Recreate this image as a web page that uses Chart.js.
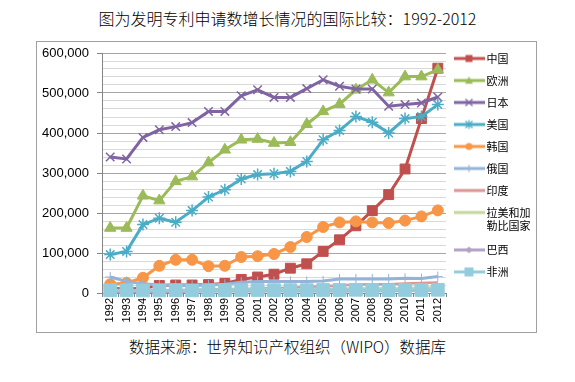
<!DOCTYPE html>
<html><head><meta charset="utf-8">
<script src="https://cdn.jsdelivr.net/npm/chart.js@4.4.0/dist/chart.umd.min.js"></script>
<style>
html,body{margin:0;padding:0;background:#fff;width:575px;height:382px;overflow:hidden;}
#title{position:absolute;left:0;top:8px;width:575px;text-align:center;font-family:"Noto Sans CJK SC";font-weight:300;font-size:16px;line-height:20px;color:#000;}
#frame{position:absolute;left:36px;top:41px;width:499px;height:290px;border:1px solid #a0a0a0;}
#src{position:absolute;left:0;top:336px;width:575px;text-align:center;font-family:"Noto Sans CJK SC";font-weight:300;font-size:15.5px;line-height:20px;color:#000;}
canvas{display:block;}
</style></head><body>
<div id="title">图为发明专利申请数增长情况的国际比较：1992-2012</div>
<div id="frame"><canvas id="c" width="499" height="290"></canvas></div>
<div id="src">数据来源：世界知识产权组织（WIPO）数据库</div>
<script>
// ---- data ----
const years = ['1992','1993','1994','1995','1996','1997','1998','1999','2000','2001','2002','2003','2004','2005','2006','2007','2008','2009','2010','2011','2012'];
const seriesNames = ['中国','欧洲','日本','美国','韩国','俄国','印度','拉美和加勒比国家','巴西','非洲'];
const china  = [12000,10000,12000,19000,20000,20000,21000,24000,34000,40000,47000,62000,73000,104000,133000,168000,206000,246000,310000,436000,562000];
const europe = [162500,162500,243000,231000,279000,291000,326000,358000,383000,385000,375000,377000,422000,454000,472000,508000,533000,501000,541000,541000,558000];
const japan  = [340000,335000,389000,408000,416000,426000,454000,454000,493000,508000,489000,489000,511000,533000,517000,510000,510000,467000,471000,475000,490000];
const usa    = [96000,104000,171000,187000,177000,206000,240000,258000,285000,296000,298000,304000,329000,383000,406000,441000,427000,400000,436000,441000,471000];
const korea  = [22000,25000,38000,68000,83000,83000,67000,68000,90000,92000,97500,115000,140000,165000,176500,179000,176500,175000,181000,191500,206500];
const russia = [40000,29000,23000,20000,20000,19000,20000,22000,27000,29000,29000,29000,29000,30000,35000,35000,35000,35000,37000,36000,41000];
const india  = [3000,3500,4000,5000,6000,8000,9000,10000,10000,11000,12000,13000,15000,17000,19000,21000,22000,22000,24000,25000,26000];
const latam  = [6000,6000,7000,7000,7000,8000,8000,9000,9000,9000,9000,9000,10000,10000,11000,11000,12000,11000,12000,13000,14000];
const brazil = [3000,3000,3500,4000,4000,4500,5000,5000,5000,5000,5000,5000,5000,5000,5000,5000,5500,5500,6000,6500,7000];
const africa = [7000,7000,6500,6500,7000,6500,7000,7000,7500,7500,7000,7000,7000,7500,7500,8000,7500,7000,7500,7500,8000];
const yMax = 600000;
const yMajorStep = 100000;
const yMinorStep = 20000;

// ---- styles ----
const dataArrays = [china, europe, japan, usa, korea, russia, india, latam, brazil, africa];
const styles = [
  {color:'#C0504D', point:'rect',     r:7,   bw:1,   width:3,   lr:3.5},
  {color:'#9BBB59', point:'triangle', r:6.5, bw:1,   width:3,   lr:4},
  {color:'#8064A2', point:'crossRot', r:6,   bw:1.5, width:3,   lr:3.5},
  {color:'#4BACC6', point:'star',     r:6,   bw:1.5, width:3,   lr:3.5},
  {color:'#F79646', point:'circle',   r:5.5, bw:1,   width:3,   lr:3.5},
  {color:'#95B3D7', point:'cross',    r:5,   bw:1,   width:3,   lr:3.5},
  {color:'#D99694', point:null,       r:0,   bw:0,   width:2.5, lr:0},
  {color:'#C3D69B', point:null,       r:0,   bw:0,   width:2.5, lr:0},
  {color:'#B3A2C7', point:'rectRot',  r:4,   bw:1,   width:3,   lr:3.5},
  {color:'#93CDDD', point:'rect',     r:9,   bw:1,   width:3,   lr:4.5}
];

function drawMarker(g, kind, x, y, r, color){
  g.fillStyle = color; g.strokeStyle = color; g.lineWidth = 1.2;
  g.beginPath();
  if (kind === 'rect') { g.fillRect(x-r, y-r, 2*r, 2*r); }
  else if (kind === 'triangle') { g.moveTo(x, y-r); g.lineTo(x+r, y+r*0.8); g.lineTo(x-r, y+r*0.8); g.closePath(); g.fill(); }
  else if (kind === 'crossRot') { g.moveTo(x-r,y-r); g.lineTo(x+r,y+r); g.moveTo(x+r,y-r); g.lineTo(x-r,y+r); g.stroke(); }
  else if (kind === 'star') { g.moveTo(x-r,y-r); g.lineTo(x+r,y+r); g.moveTo(x+r,y-r); g.lineTo(x-r,y+r); g.moveTo(x,y-r*1.3); g.lineTo(x,y+r*1.3); g.stroke(); }
  else if (kind === 'circle') { g.arc(x, y, r, 0, Math.PI*2); g.fill(); }
  else if (kind === 'cross') { g.moveTo(x,y-r); g.lineTo(x,y+r); g.moveTo(x-r,y); g.lineTo(x+r,y); g.stroke(); }
  else if (kind === 'rectRot') { g.moveTo(x,y-r); g.lineTo(x+r,y); g.lineTo(x,y+r); g.lineTo(x-r,y); g.closePath(); g.fill(); }
}
function makeSymbol(st){
  const c = document.createElement('canvas'); c.width = 31; c.height = 14;
  const g = c.getContext('2d');
  g.strokeStyle = st.color; g.lineWidth = 3;
  g.beginPath(); g.moveTo(0,7); g.lineTo(31,7); g.stroke();
  if (st.point) drawMarker(g, st.point, 15.5, 7, st.lr, st.color);
  return c;
}
const symbols = styles.map(makeSymbol);
function legendText(name){
  return name.length > 6 ? [name.slice(0,4), name.slice(4)] : name;
}

const datasets = seriesNames.map((name, i) => {
  const st = styles[i];
  return {
    label: name,
    data: dataArrays[i],
    borderColor: st.color,
    backgroundColor: st.color,
    borderWidth: st.width,
    pointStyle: st.point || 'circle',
    pointRadius: st.r,
    pointHoverRadius: st.r,
    pointBorderWidth: st.bw,
    pointBackgroundColor: st.color,
    pointBorderColor: st.color,
    tension: 0,
    clip: false,
    order: seriesNames.length - i
  };
});

Chart.defaults.font.family = 'Liberation Sans';
Chart.defaults.color = '#000';

new Chart(document.getElementById('c'), {
  type: 'line',
  data: { labels: years, datasets },
  options: {
    responsive: false,
    animation: false,
    layout: { padding: 0 },
    plugins: {
      title: { display: false },
      tooltip: { enabled: false },
      legend: {
        position: 'right',
        align: 'start',
        maxWidth: 90,
        labels: {
          usePointStyle: true,
          pointStyleWidth: 24,
          padding: 11,
          color: '#000',
          font: { family: 'Noto Sans CJK SC', size: 11 },
          generateLabels(chart){
            const items = Chart.defaults.plugins.legend.labels.generateLabels(chart);
            items.forEach(it => {
              it.pointStyle = symbols[it.datasetIndex];
              it.text = legendText(seriesNames[it.datasetIndex]);
            });
            return items;
          },
          sort: (a, b) => a.datasetIndex - b.datasetIndex
        }
      }
    },
    scales: {
      x: {
        type: 'category',
        offset: true,
        grid: { display: true, drawOnChartArea: false, drawTicks: true, tickLength: 4, offset: true, color: '#868686', tickColor: '#868686' },
        border: { display: true, color: '#868686', width: 1 },
        ticks: { minRotation: 90, maxRotation: 90, autoSkip: false, padding: 1, color: '#000', font: { family: 'Liberation Sans', size: 11 } },
        afterFit: s => { s.height = 39; }
      },
      y: {
        min: 0,
        max: yMax,
        afterBuildTicks: s => {
          const t = [];
          for (let v = 0; v <= yMax; v += yMinorStep) t.push({ value: v });
          s.ticks = t;
        },
        grid: {
          color: c => (c.tick && c.tick.value % yMajorStep === 0) ? '#A6A6A6' : '#D9D9D9',
          tickColor: c => (c.tick && c.tick.value % yMajorStep === 0) ? '#868686' : 'rgba(0,0,0,0)',
          tickLength: 5,
          lineWidth: 1
        },
        border: { display: true, color: '#868686', width: 1 },
        ticks: {
          autoSkip: false,
          padding: 8,
          color: '#000',
          font: { family: 'Liberation Sans', size: 13 },
          callback: v => (v % yMajorStep === 0) ? v.toLocaleString('en-US') : ''
        },
        afterFit: s => { s.width = 65; s.paddingTop = 11; }
      }
    }
  }
});
</script>
</body></html>
